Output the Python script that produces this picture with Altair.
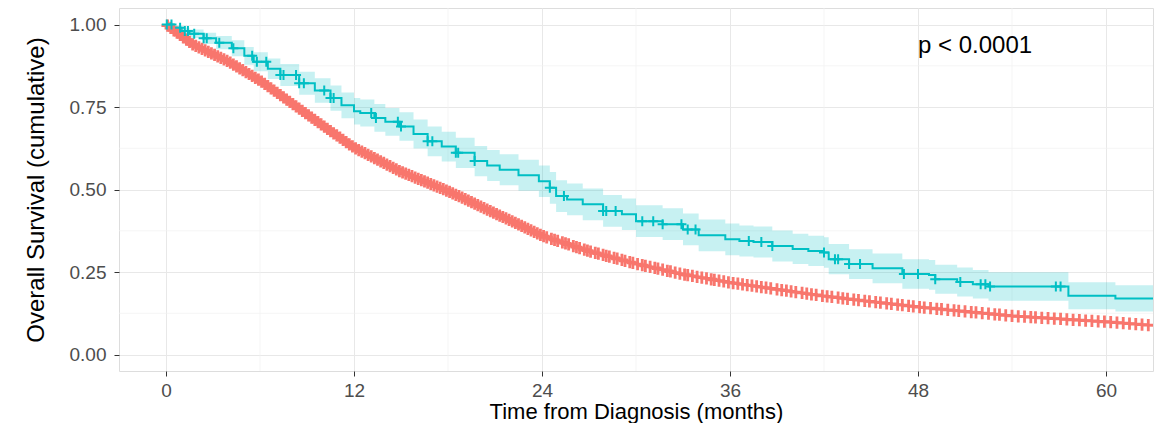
import altair as alt
import numpy as np
import pandas as pd

FONT = "Liberation Sans"
RED = "#F8766D"
TEAL = "#00BFC4"

# ---- data ----
# teal group Kaplan-Meier steps (months, survival) and confidence band
teal_t = [0, 0.5, 1.0, 1.5, 2.4, 3.2, 4.2, 5.0, 5.6, 6.5, 7.3, 8.5, 9.5, 10.5, 11.2, 12.0, 12.4,
          13.3, 14.0, 14.9, 15.8, 16.7, 17.6, 18.5, 19.7, 20.5, 21.3, 22.5, 23.8, 24.5, 24.9,
          25.6, 26.6, 27.9, 29.1, 30.0, 31.7, 33.0, 34.0, 35.7, 36.6, 37.5, 38.7, 40.0, 41.0,
          42.0, 42.3, 43.6, 45.1, 47.0, 48.7, 49.1, 50.5, 51.5, 52.5, 57.6, 60.6, 63.0]
teal_s = [1.0, 0.99, 0.98, 0.972, 0.958, 0.945, 0.928, 0.905, 0.887, 0.866, 0.847, 0.822, 0.800,
          0.777, 0.755, 0.737, 0.732, 0.717, 0.705, 0.691, 0.668, 0.646, 0.630, 0.611, 0.586,
          0.573, 0.560, 0.543, 0.525, 0.505, 0.480, 0.470, 0.455, 0.435, 0.425, 0.404, 0.395,
          0.379, 0.361, 0.349, 0.344, 0.341, 0.329, 0.320, 0.314, 0.309, 0.289, 0.274, 0.261,
          0.244, 0.241, 0.228, 0.220, 0.213, 0.206, 0.178, 0.170, 0.170]
teal_lo = [1.0, 0.984, 0.970, 0.959, 0.941, 0.925, 0.904, 0.878, 0.858, 0.835, 0.814, 0.787, 0.763,
           0.739, 0.716, 0.697, 0.691, 0.675, 0.663, 0.648, 0.624, 0.601, 0.585, 0.565, 0.540,
           0.526, 0.513, 0.496, 0.477, 0.457, 0.432, 0.422, 0.407, 0.387, 0.377, 0.356, 0.347,
           0.331, 0.313, 0.301, 0.297, 0.294, 0.282, 0.274, 0.268, 0.263, 0.243, 0.229, 0.216,
           0.199, 0.196, 0.184, 0.176, 0.170, 0.163, 0.137, 0.130, 0.130]
teal_hi = [1.0, 0.996, 0.990, 0.985, 0.975, 0.965, 0.952, 0.932, 0.916, 0.897, 0.880, 0.857, 0.837,
           0.815, 0.794, 0.777, 0.773, 0.759, 0.747, 0.734, 0.712, 0.691, 0.675, 0.657, 0.632,
           0.620, 0.607, 0.590, 0.573, 0.553, 0.528, 0.518, 0.503, 0.483, 0.473, 0.452, 0.443,
           0.427, 0.409, 0.397, 0.391, 0.388, 0.376, 0.366, 0.360, 0.355, 0.335, 0.319, 0.306,
           0.289, 0.286, 0.272, 0.264, 0.256, 0.249, 0.219, 0.210, 0.210]
teal_censor = [0.05, 0.35, 0.9, 1.2, 1.4, 1.8, 2.4, 2.6, 3.4, 4.3, 5.5, 5.8, 6.4, 7.3, 7.5, 8.3,
               8.5, 8.8, 10.1, 10.5, 10.7, 13.1, 13.4, 14.8, 15.0, 16.7, 17.0, 18.5, 18.65, 19.7,
               24.5, 25.4, 27.9, 28.1, 28.7, 30.4, 31.1, 31.7, 32.9, 33.3, 33.8, 37.2, 38.0,
               38.7, 42.0, 42.7, 42.9, 43.6, 44.3, 47.1, 48.0, 49.1, 50.7, 52.0, 52.3, 52.6,
               56.8, 57.1]

# red group survival curve (dense events)
red_t = [0, 1.7, 3.9, 6.0, 9.0, 10.5, 12.0, 14.9, 18.1, 21.0, 24.0, 27.0, 30.0,
         33.0, 36.0, 42.0, 48.0, 54.0, 60.0, 63.0]
red_s = [1.0, 0.94, 0.89, 0.83, 0.728, 0.677, 0.627, 0.556, 0.493, 0.428, 0.36, 0.313, 0.275,
         0.243, 0.218, 0.177, 0.144, 0.117, 0.099, 0.088]
red_censor = [0.1, 0.3, 0.5, 0.7, 0.9, 1.1, 1.3, 1.5, 1.7, 1.9, 2.1, 2.3, 2.5, 2.7, 2.9, 3.1,
              3.3, 3.5, 3.7, 3.9, 4.1, 4.3, 4.5, 4.7, 4.9, 5.1, 5.3, 5.5, 5.7, 5.9, 6.1, 6.3,
              6.5, 6.7, 6.9, 7.1, 7.3, 7.5, 7.7, 7.9, 8.1, 8.3, 8.5, 8.7, 8.9, 9.1, 9.3, 9.5,
              9.7, 9.9, 10.1, 10.3, 10.5, 10.7, 10.9, 11.1, 11.3, 11.5, 11.7, 11.9, 12.1, 12.3,
              12.5, 12.7, 12.9, 13.1, 13.3, 13.5, 13.7, 13.9, 14.1, 14.3, 14.5, 14.7, 14.9,
              15.1, 15.3, 15.5, 15.7, 15.9, 16.1, 16.3, 16.5, 16.7, 16.9, 17.1, 17.3, 17.5,
              17.7, 17.9, 18.1, 18.3, 18.5, 18.7, 18.9, 19.1, 19.3, 19.5, 19.7, 19.9, 20.1,
              20.3, 20.5, 20.7, 20.9, 21.1, 21.3, 21.5, 21.7, 21.9, 22.1, 22.3, 22.5, 22.7,
              22.9, 23.1, 23.3, 23.5, 23.7, 23.9, 24.1, 24.3, 24.6, 24.8, 25.0, 25.3, 25.5,
              25.7, 26.0, 26.2, 26.4, 26.7, 26.9, 27.1, 27.4, 27.6, 27.9, 28.1, 28.3, 28.6,
              28.8, 29.1, 29.3, 29.6, 29.8, 30.1, 30.4, 30.6, 30.9, 31.2, 31.4, 31.7, 32.0,
              32.2, 32.5, 32.8, 33.1, 33.3, 33.6, 33.9, 34.2, 34.5, 34.8, 35.0, 35.3, 35.6,
              35.9, 36.2, 36.5, 36.8, 37.1, 37.4, 37.7, 38.0, 38.3, 38.6, 39.0, 39.3, 39.6,
              39.9, 40.2, 40.6, 40.9, 41.2, 41.5, 41.9, 42.2, 42.5, 42.9, 43.2, 43.5, 43.9,
              44.2, 44.6, 44.9, 45.3, 45.6, 46.0, 46.3, 46.7, 47.0, 47.4, 47.7, 48.1, 48.4,
              48.8, 49.2, 49.5, 49.9, 50.3, 50.6, 51.0, 51.4, 51.7, 52.1, 52.5, 52.9, 53.2,
              53.6, 54.0, 54.4, 54.8, 55.2, 55.5, 55.9, 56.3, 56.7, 57.1, 57.5, 57.9, 58.3,
              58.7, 59.1, 59.5, 59.9, 60.3, 60.7, 61.1, 61.5, 61.9, 62.3, 62.7]

x_major = [0, 12, 24, 36, 48, 60]
x_minor = [6, 18, 30, 42, 54]
y_major = [0, 0.25, 0.5, 0.75, 1.0]
y_minor = [0.125, 0.375, 0.625, 0.875]
pval_text = ["p < 0.0001"]
pval_x = [48]
pval_y = [0.935]

# ---- tables ----
teal_df = pd.DataFrame({"t": teal_t, "s": teal_s, "lo": teal_lo, "hi": teal_hi})
red_df = pd.DataFrame({"t": red_t, "s": red_s})
idx = np.searchsorted(np.array(teal_t), np.array(teal_censor), side="right") - 1
teal_c = pd.DataFrame({"t": teal_censor, "s": np.array(teal_s)[idx]})
red_c = pd.DataFrame({"t": red_censor, "s": np.interp(red_censor, red_t, red_s)})

xscale = alt.Scale(domain=[-3, 63], nice=False, zero=False)
yscale = alt.Scale(domain=[-0.05, 1.05], nice=False, zero=False)

xaxis = alt.Axis(values=x_major, title="Time from Diagnosis (months)", grid=True,
                 gridColor="#E8E8E8", gridWidth=1, domain=False, tickColor="#333333",
                 tickSize=5, tickWidth=1, labelFontSize=19, labelColor="#4D4D4D",
                 labelBaseline="alphabetic", labelPadding=20, labelFont=FONT,
                 titleFont=FONT, titleFontSize=22, titleFontWeight="normal",
                 titleColor="black", titleBaseline="alphabetic", titleY=47)
yaxis = alt.Axis(values=y_major, format=".2f", title="Overall Survival (cumulative)",
                 grid=True, gridColor="#E8E8E8", gridWidth=1, domain=False,
                 tickColor="#333333", tickSize=5, tickWidth=1, labelFontSize=19,
                 labelColor="#4D4D4D", labelPadding=8, labelFont=FONT, titleFont=FONT,
                 titleFontSize=24, titleFontWeight="normal", titleColor="black",
                 titleBaseline="alphabetic", titleX=-76, titleY=181.5)


def X(f="t"):
    return alt.X(f"{f}:Q", scale=xscale, axis=xaxis)


def Y(f="s"):
    return alt.Y(f"{f}:Q", scale=yscale, axis=yaxis)


minor_x = alt.Chart(pd.DataFrame({"t": x_minor})).mark_rule(
    color="#F0F0F0", strokeWidth=0.7).encode(x=X())
minor_y = alt.Chart(pd.DataFrame({"s": y_minor})).mark_rule(
    color="#F0F0F0", strokeWidth=0.7).encode(y=Y())

band = alt.Chart(teal_df).mark_area(interpolate="step-after", color=TEAL, opacity=0.22,
                                    clip=True).encode(x=X(), y=Y("lo"), y2="hi:Q")
red_line = alt.Chart(red_df).mark_line(interpolate="monotone", color=RED, strokeWidth=2,
                                       clip=True).encode(x=X(), y=Y())
teal_line = alt.Chart(teal_df).mark_line(interpolate="step-after", color=TEAL, strokeWidth=2,
                                         clip=True).encode(x=X(), y=Y())

plus = "M-1,0L1,0M0,-1L0,1"
red_pts = alt.Chart(red_c).mark_point(shape=plus, size=150, filled=False, color=RED,
                                      strokeWidth=2.8, opacity=1, clip=True).encode(x=X(), y=Y())
teal_pts = alt.Chart(teal_c).mark_point(shape=plus, size=100, filled=False, color=TEAL,
                                        strokeWidth=2, opacity=1, clip=True).encode(x=X(), y=Y())

ptext = alt.Chart(pd.DataFrame({"t": pval_x, "s": pval_y, "label": pval_text})).mark_text(
    align="left", baseline="middle", fontSize=24, font=FONT, color="black").encode(
    x=X(), y=Y(), text="label:N")

chart = alt.layer(minor_x, minor_y, band, red_line, teal_line, red_pts, teal_pts, ptext).properties(
    width=1034, height=363,
    padding={"left": 111, "top": 0, "right": 5, "bottom": 52},
    autosize=alt.AutoSizeParams(type="none"),
    background="white",
).configure_view(stroke="#B3B3B3", strokeWidth=1).configure(font=FONT)

chart.save("out.html", embed_options={"renderer": "svg", "actions": False})
